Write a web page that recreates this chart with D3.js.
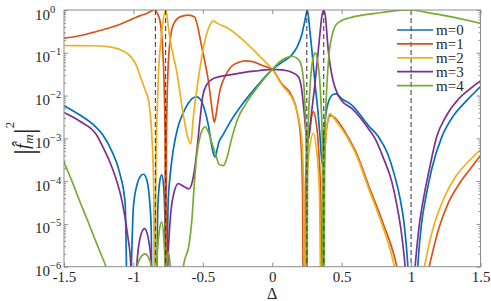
<!DOCTYPE html>
<html>
<head>
<meta charset="utf-8">
<script src="https://cdn.jsdelivr.net/npm/d3@7/dist/d3.min.js"></script>
<style>
body { margin: 0; background: #fff; }
#corpo { width: 491px; height: 301px; }
</style>
</head>
<body>
<div id="corpo"></div>
<script>
// axis ticks
var xTicks = [-1.5, -1, -0.5, 0, 0.5, 1, 1.5];
var yDecades = [0, -1, -2, -3, -4, -5, -6];
// dashed verticals
var resonances = [-0.842, -0.768, 0.249, 0.371, 1.0];
var names = ["m=0", "m=1", "m=2", "m=3", "m=4"];
var colors = ["#0072BD", "#D95319", "#EDB120", "#7E2F8E", "#77AC30"];

// [Delta, |f_m|^2]
var m0 = [[-1.5,5.8e-3],[-1.385,3.5e-3],[-1.289,2.1e-3],[-1.22,1.2e-3],[-1.16,5.4e-4],[-1.1,1.6e-4],[-1.06,3.2e-5],[-1.037,1e-8],
  [-1.0,2.5e-5],[-0.975,8e-5],[-0.945,1.35e-4],[-0.928,1.45e-4],[-0.905,1.1e-4],[-0.885,4e-5],[-0.872,8e-6],[-0.864,1e-8],
  [-0.838,1e-8],[-0.825,2e-5],[-0.81,1e-4],[-0.796,1.4e-4],[-0.783,8e-5],[-0.773,1.3e-5],[-0.766,1e-8],[-0.75,3e-5],
  [-0.735,1.4e-4],[-0.713,5.4e-4],[-0.68,1.8e-3],[-0.64,4e-3],[-0.6,7e-3],[-0.56,9.1e-3],[-0.544,9.3e-3],[-0.52,8.3e-3],
  [-0.49,5e-3],[-0.46,2e-3],[-0.44,8e-4],[-0.425,4.5e-4],[-0.41,3.7e-4],[-0.4,5e-4],[-0.385,8e-4],[-0.355,1.2e-3],
  [-0.3,2.5e-3],[-0.22,6e-3],[-0.11,1.66e-2],[0,4.1e-2],[0.07,6e-2],[0.14,8.9e-2],[0.18,0.14],[0.212,0.26],[0.235,0.56],
  [0.253,1.0],[0.27,0.35],[0.285,0.12],[0.308,1.9e-2],[0.33,4e-3],[0.345,1e-3],[0.36,2.5e-4],[0.375,1.6e-3],[0.4,6.3e-3],
  [0.44,1.07e-2],[0.46,1.1e-2],[0.5,8.5e-3],[0.573,6e-3],[0.692,2e-3],[0.764,1.1e-3],[0.83,4.5e-4],[0.88,1.4e-4],
  [0.92,4e-5],[0.95,1e-5],[0.975,1.26e-6],[0.99,1.6e-7],[1.012,1e-8],[1.035,1.6e-7],[1.05,1.26e-6],[1.075,1e-5],
  [1.105,4e-5],[1.15,2e-4],[1.222,1.1e-3],[1.3,3.2e-3],[1.4,7.6e-3],[1.5,1.62e-2]];

var m1 = [[-1.5,0.22],[-1.385,0.25],[-1.289,0.3],[-1.2,0.36],[-1.1,0.46],[-1.048,0.54],[-1.0,0.63],[-0.95,0.74],
  [-0.904,0.83],[-0.87,0.95],[-0.845,1.0],[-0.825,0.8],[-0.808,0.54],[-0.79,0.13],[-0.78,2.5e-2],[-0.772,1e-3],
  [-0.768,1e-8],[-0.762,1e-3],[-0.752,3.2e-2],[-0.735,0.2],[-0.713,0.45],[-0.664,0.69],[-0.604,0.76],[-0.56,0.69],
  [-0.51,0.15],[-0.48,5e-2],[-0.46,2.2e-2],[-0.44,7e-3],[-0.425,3e-3],[-0.417,2.4e-3],[-0.405,3.5e-3],[-0.39,7.5e-3],
  [-0.376,1.35e-2],[-0.34,2.8e-2],[-0.3,4.6e-2],[-0.24,6e-2],[-0.196,6.5e-2],[-0.15,6.3e-2],[-0.076,5.1e-2],[0,4.1e-2],
  [0.068,1.9e-2],[0.14,1e-2],[0.18,4e-3],[0.205,1e-3],[0.218,6.3e-5],[0.226,1e-8],[0.24,1e-4],[0.26,1e-3],[0.28,2.8e-3],
  [0.296,4.2e-3],[0.315,2.5e-3],[0.335,5e-4],[0.35,3.2e-5],[0.36,1e-8],[0.372,1e-4],[0.385,1e-3],[0.4,2.5e-3],
  [0.416,3.4e-3],[0.44,3.2e-3],[0.5,1.9e-3],[0.537,1.2e-3],[0.6,5e-4],[0.7,7e-5],[0.8,1e-5],[0.897,1e-6],[0.95,1e-7],
  [1.0,1e-9],[1.06,1e-7],[1.13,1e-6],[1.2,7.9e-6],[1.27,3.2e-5],[1.35,8.9e-5],[1.43,2e-4],[1.5,3.9e-4]];

var m2 = [[-1.5,0.148],[-1.3,0.146],[-1.169,0.138],[-1.1,0.12],[-1.048,9.8e-2],[-1.0,6.8e-2],[-0.976,4.8e-2],[-0.95,2.8e-2],
  [-0.916,1.35e-2],[-0.892,7.9e-3],[-0.87,1.6e-3],[-0.855,1e-4],[-0.845,1e-8],[-0.838,2e-4],[-0.83,3.2e-3],[-0.82,3.2e-2],
  [-0.808,0.12],[-0.79,0.45],[-0.766,1.0],[-0.752,0.5],[-0.737,0.22],[-0.688,3.6e-2],[-0.64,3.5e-3],[-0.61,1.1e-3],
  [-0.587,7.4e-4],[-0.57,2.8e-3],[-0.545,1.26e-2],[-0.52,4.5e-2],[-0.5,0.11],[-0.472,0.28],[-0.445,0.47],[-0.424,0.56],
  [-0.4,0.5],[-0.316,0.37],[-0.196,0.18],[-0.076,7.4e-2],[0,4.1e-2],[0.068,1.8e-2],[0.164,6e-3],[0.2,2e-3],[0.212,1e-3],
  [0.225,1e-4],[0.235,1e-8],[0.25,1e-4],[0.27,6.3e-4],[0.296,1.3e-3],[0.32,5e-4],[0.34,5e-5],[0.355,1e-8],[0.37,1.6e-4],
  [0.39,1.6e-3],[0.416,3.8e-3],[0.45,2.8e-3],[0.537,1.1e-3],[0.6,4.5e-4],[0.7,6e-5],[0.8,7.9e-6],[0.88,1e-6],[0.93,1e-7],
  [0.99,1e-9],[1.04,1e-7],[1.096,1e-6],[1.15,6.3e-6],[1.237,4e-5],[1.32,1.26e-4],[1.41,2.8e-4],[1.5,5.4e-4]];

var m3 = [[-1.5,4e-3],[-1.385,2.5e-3],[-1.265,1.2e-3],[-1.22,6.3e-4],[-1.17,2.8e-4],[-1.12,1e-4],[-1.08,3.2e-5],[-1.04,5e-6],
  [-1.02,1.26e-6],[-1.0,1e-8],[-0.976,1e-6],[-0.95,5e-6],[-0.92,7.8e-6],[-0.895,5e-6],[-0.87,1e-6],[-0.86,1e-8],
  [-0.8,1e-9],[-0.765,1e-8],[-0.755,5e-7],[-0.735,1.26e-5],[-0.71,5e-5],[-0.677,8.7e-5],[-0.64,7.6e-5],[-0.6,6.6e-5],
  [-0.575,1e-4],[-0.55,3.2e-4],[-0.52,2.8e-3],[-0.5,1e-2],[-0.472,1.8e-2],[-0.424,2.5e-2],[-0.316,3e-2],[-0.2,3.5e-2],
  [-0.1,3.8e-2],[0,4.1e-2],[0.07,4e-2],[0.14,3.5e-2],[0.188,2.75e-2],[0.212,1.4e-2],[0.23,4e-3],[0.245,1.26e-3],
  [0.262,1e-3],[0.285,4.5e-3],[0.308,1.95e-2],[0.33,0.1],[0.344,0.29],[0.357,0.71],[0.37,1.0],[0.383,0.71],[0.393,0.29],
  [0.404,0.11],[0.42,4.5e-2],[0.44,2.1e-2],[0.47,1.1e-2],[0.5,7.6e-3],[0.573,5e-3],[0.692,1.7e-3],[0.74,1e-3],[0.8,3.5e-4],
  [0.86,1e-4],[0.9,2.5e-5],[0.93,6.3e-6],[0.957,1e-6],[0.975,1.6e-7],[0.993,1e-8],[1.01,1.6e-7],[1.029,1e-6],[1.06,1e-5],
  [1.09,4e-5],[1.13,1.8e-4],[1.185,1.1e-3],[1.25,3.2e-3],[1.35,8.9e-3],[1.42,1.4e-2],[1.5,2.2e-2]];

var m4 = [[-1.5,2.8e-4],[-1.44,9.5e-5],[-1.385,3.3e-5],[-1.33,1.2e-5],[-1.289,5.5e-6],[-1.24,2.2e-6],[-1.193,8.9e-7],
  [-1.16,3.2e-7],[-1.13,3.2e-8],[-1.1,1e-9],[-1.0,3.2e-8],[-0.976,8.9e-7],[-0.95,1.6e-6],[-0.916,2e-6],[-0.89,1.6e-6],
  [-0.868,8.9e-7],[-0.85,3.2e-8],[-0.842,1e-9],[-0.832,1e-6],[-0.815,6.3e-6],[-0.796,1.12e-5],[-0.78,4e-6],[-0.772,1e-6],
  [-0.768,1e-9],[-0.76,1e-6],[-0.749,2.2e-6],[-0.737,1.26e-6],[-0.725,1e-7],[-0.715,1e-9],[-0.68,1e-8],[-0.66,1.26e-7],
  [-0.64,1e-6],[-0.6,3.2e-6],[-0.58,1.12e-5],[-0.56,1e-4],[-0.544,4e-4],[-0.52,1.1e-3],[-0.5,1.66e-3],[-0.484,1.86e-3],
  [-0.46,1.4e-3],[-0.43,7e-4],[-0.4,3.5e-4],[-0.385,2.5e-4],[-0.352,2.3e-4],[-0.33,3.2e-4],[-0.292,1e-3],[-0.25,2.8e-3],
  [-0.196,6e-3],[-0.14,1.12e-2],[-0.076,2.1e-2],[0,4.1e-2],[0.05,6e-2],[0.092,7.4e-2],[0.14,8.3e-2],[0.175,7.6e-2],
  [0.2,6.2e-2],[0.22,3.2e-2],[0.235,6.3e-3],[0.245,3.2e-4],[0.249,1e-9],[0.255,5e-4],[0.27,1.26e-2],[0.285,5e-2],
  [0.3,8.9e-2],[0.31,0.1],[0.325,7e-2],[0.345,1.6e-2],[0.36,1e-3],[0.37,1e-9],[0.378,1e-3],[0.39,1e-2],[0.41,0.1],
  [0.43,0.25],[0.45,0.4],[0.488,0.54],[0.56,0.66],[0.65,0.76],[0.73,0.82],[0.85,0.93],[1.0,1.0],[1.1,0.89],[1.2,0.79],
  [1.3,0.68],[1.4,0.58],[1.5,0.49]];

var series = [m0, m1, m2, m3, m4];

(function() {
var width = 491, height = 301;
var pl = 64, pr = 480.5, pt = 10, pb = 266.7;
var axisColor = "#8c8c8c";
var serif = '"Liberation Serif", "Times New Roman", Times, serif';

var x = d3.scaleLinear().domain([-1.5, 1.5]).range([pl, pr]);
var y = d3.scaleLog().domain([1e-6, 1]).range([pb, pt]);

var svg = d3.select("#corpo").append("svg")
    .attr("width", width)
    .attr("height", height)
    .attr("font-family", serif);

svg.append("clipPath").attr("id", "clip")
    .append("rect")
    .attr("x", pl).attr("y", pt)
    .attr("width", pr - pl).attr("height", pb - pt);

var line = d3.line()
    .x(function(d) { return x(d[0]); })
    .y(function(d) { return y(d[1]); })
    .curve(d3.curveMonotoneX);

svg.append("g").attr("clip-path", "url(#clip)")
    .selectAll("path")
    .data(series)
    .enter().append("path")
    .attr("d", line)
    .style("fill", "none")
    .style("stroke", function(d, i) { return colors[i]; })
    .style("stroke-width", 1.7)
    .style("stroke-linejoin", "round");

// dashed resonance markers
svg.append("g").selectAll("line")
    .data(resonances)
    .enter().append("line")
    .attr("x1", function(d) { return x(d); })
    .attr("x2", function(d) { return x(d); })
    .attr("y1", pt).attr("y2", pb)
    .style("stroke", "#333")
    .style("stroke-width", 1)
    .style("stroke-dasharray", "5,3");

// ticks
var majors = yDecades.map(function(e) { return Math.pow(10, e); });
var minors = [];
yDecades.forEach(function(e) {
    if (e < 0) for (var k = 2; k <= 9; k++) minors.push(k * Math.pow(10, e));
});

function styleAxis(g) {
    g.select(".domain").remove();
    g.selectAll(".tick line").style("stroke", axisColor);
}

svg.append("g").attr("transform", "translate(0," + pb + ")")
    .call(d3.axisBottom(x).tickValues(xTicks).tickSize(-4).tickSizeOuter(0).tickPadding(5)
        .tickFormat(function(d) { return String(d); }))
    .call(styleAxis)
    .selectAll("text")
    .style("font-family", serif)
    .style("font-size", "15px")
    .style("fill", "#262626");

svg.append("g").attr("transform", "translate(0," + pt + ")")
    .call(d3.axisTop(x).tickValues(xTicks).tickSize(-4).tickSizeOuter(0).tickFormat(""))
    .call(styleAxis);

svg.append("g").attr("transform", "translate(" + pl + ",0)")
    .call(d3.axisLeft(y).tickValues(majors).tickSize(-4).tickSizeOuter(0).tickFormat(""))
    .call(styleAxis);
svg.append("g").attr("transform", "translate(" + pl + ",0)")
    .call(d3.axisLeft(y).tickValues(minors).tickSize(-2).tickSizeOuter(0).tickFormat(""))
    .call(styleAxis);
svg.append("g").attr("transform", "translate(" + pr + ",0)")
    .call(d3.axisRight(y).tickValues(majors).tickSize(-4).tickSizeOuter(0).tickFormat(""))
    .call(styleAxis);
svg.append("g").attr("transform", "translate(" + pr + ",0)")
    .call(d3.axisRight(y).tickValues(minors).tickSize(-2).tickSizeOuter(0).tickFormat(""))
    .call(styleAxis);

// box
svg.append("rect")
    .attr("x", pl).attr("y", pt)
    .attr("width", pr - pl).attr("height", pb - pt)
    .style("fill", "none")
    .style("stroke", axisColor)
    .style("stroke-width", 1);

// y tick labels 10^k
var yl = svg.append("g").selectAll("text")
    .data(yDecades)
    .enter().append("text")
    .attr("x", 35)
    .attr("y", function(d) { return y(Math.pow(10, d)) + 9.5; })
    .style("font-family", serif)
    .style("fill", "#262626")
    .style("font-size", "15px");
yl.append("tspan").text("10");
yl.append("tspan")
    .attr("dy", -7)
    .style("font-size", "10.5px")
    .text(function(d) { return d === 0 ? "0" : "\u2212" + (-d); });

// axis labels
svg.append("text")
    .attr("x", x(0)).attr("y", 299)
    .attr("text-anchor", "middle")
    .style("font-family", serif)
    .style("fill", "#262626")
    .style("font-size", "16px")
    .text("\u0394");

var ylab = svg.append("text")
    .attr("transform", "translate(29," + ((pt + pb) / 2) + ") rotate(-90)")
    .attr("text-anchor", "middle")
    .style("font-family", serif)
    .style("fill", "#262626");
ylab.append("tspan").style("font-size", "30px").attr("dy", 5).text("|");
ylab.append("tspan").style("font-size", "19px").style("font-style", "italic").attr("dy", -5).text("f\u0302");
ylab.append("tspan").style("font-size", "13px").style("font-style", "italic").attr("dy", 4).text("m");
ylab.append("tspan").style("font-size", "30px").attr("dy", 1).text("|");
ylab.append("tspan").style("font-size", "13px").attr("dy", -20).text("2");

// legend
var leg = svg.append("g").selectAll("g")
    .data(names)
    .enter().append("g")
    .attr("transform", function(d, i) { return "translate(0," + (30 + i * 13.9) + ")"; });
leg.append("line")
    .attr("x1", 397).attr("x2", 433)
    .style("stroke", function(d, i) { return colors[i]; })
    .style("stroke-width", 1.7);
leg.append("text")
    .attr("x", 436).attr("y", 5)
    .style("font-family", serif)
    .style("fill", "#262626")
    .style("font-size", "15px")
    .text(function(d) { return d; });
})();
</script>
</body>
</html>
